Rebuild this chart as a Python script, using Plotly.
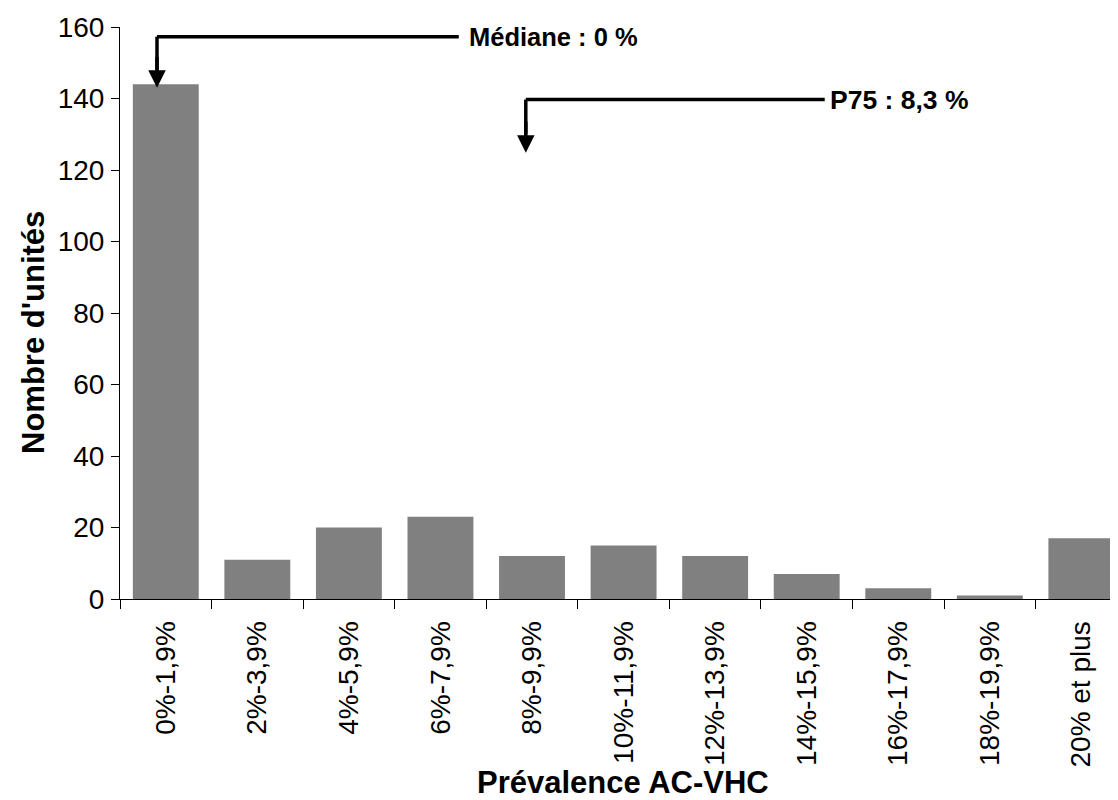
import plotly.graph_objects as go

categories = ["0%-1,9%", "2%-3,9%", "4%-5,9%", "6%-7,9%", "8%-9,9%", "10%-11,9%",
              "12%-13,9%", "14%-15,9%", "16%-17,9%", "18%-19,9%", "20% et plus"]
counts = [144, 11, 20, 23, 12, 15, 12, 7, 3, 1, 17]

y_ticks = [0, 20, 40, 60, 80, 100, 120, 140, 160]
x_title = "Prévalence AC-VHC"
y_title = "Nombre d'unités"
median_label = "<b>Médiane : 0 %</b>"
p75_label = "<b>P75 : 8,3 %</b>"

FONT = "Liberation Sans, Arial, sans-serif"

fig = go.Figure(go.Bar(x=categories, y=counts, marker=dict(color="#808080", line=dict(width=0))))

# the page body adds an 8px offset, so the figure is sized 1110x792
fig.update_layout(
    width=1110, height=792,
    margin=dict(l=112, r=0, t=19, b=201, autoexpand=False),
    paper_bgcolor="white", plot_bgcolor="white",
    font=dict(family=FONT, color="black"),
    bargap=0.28,
    showlegend=False,
)

fig.update_xaxes(
    type="category", range=[-0.5, 10.4], automargin=False,
    showline=True, linecolor="black", linewidth=1,
    ticks="outside", ticklen=9, tickcolor="black", tickson="boundaries",
    tickangle=-90, tickfont=dict(size=28, family=FONT),
    ticklabelstandoff=10,
    showgrid=False,
)
fig.update_yaxes(
    range=[0, 160], tickvals=y_ticks, automargin=False,
    showline=True, linecolor="black", linewidth=1,
    ticks="outside", ticklen=8, tickcolor="black",
    tickfont=dict(size=28, family=FONT),
    ticklabelstandoff=1,
    showgrid=False, zeroline=False,
)

# axis titles
fig.add_annotation(x=0.5, y=0, xref="paper", yref="paper", text="<b>" + x_title + "</b>",
                   showarrow=False, xanchor="center", yanchor="middle", xshift=4, yshift=-183.5,
                   font=dict(size=31, family=FONT))
fig.add_annotation(x=0, y=0.5, xref="paper", yref="paper", text="<b>" + y_title + "</b>",
                   showarrow=False, textangle=-90, xanchor="center", yanchor="middle",
                   xshift=-87, yshift=-20, font=dict(size=31, family=FONT))

line_style = dict(color="black", width=3.5)
# Médiane arrow
fig.add_shape(type="line", xref="x", yref="y", x0=-0.096, x1=3.20, y0=157.3, y1=157.3, line=line_style)
fig.add_shape(type="line", xref="x", yref="y", x0=-0.096, x1=-0.096, y0=157.3, y1=148, line=line_style)
fig.add_annotation(x=-0.096, y=143.0, xref="x", yref="y", ax=-0.096, ay=152, axref="x", ayref="y",
                   text="", showarrow=True, arrowhead=2, arrowsize=1, arrowwidth=3.5, arrowcolor="black")
fig.add_annotation(x=3.29, y=157.3, xref="x", yref="y", text=median_label, showarrow=False,
                   xanchor="left", yanchor="middle", font=dict(size=25.5, family=FONT))
# P75 arrow
fig.add_shape(type="line", xref="x", yref="y", x0=3.932, x1=7.197, y0=139.7, y1=139.7, line=line_style)
fig.add_shape(type="line", xref="x", yref="y", x0=3.932, x1=3.932, y0=139.7, y1=130, line=line_style)
fig.add_annotation(x=3.932, y=124.8, xref="x", yref="y", ax=3.932, ay=134, axref="x", ayref="y",
                   text="", showarrow=True, arrowhead=2, arrowsize=1, arrowwidth=3.5, arrowcolor="black")
fig.add_annotation(x=7.23, y=139.7, xref="x", yref="y", text=p75_label, showarrow=False,
                   xanchor="left", yanchor="middle", font=dict(size=26.5, family=FONT))

fig.write_html("out.html")
